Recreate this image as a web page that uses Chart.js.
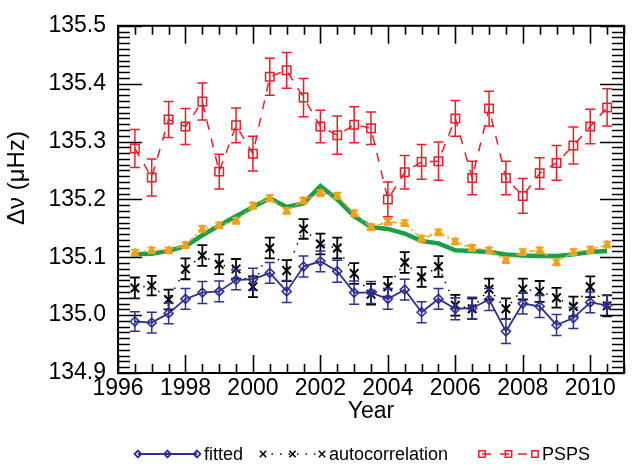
<!DOCTYPE html>
<html>
<head>
<meta charset="utf-8">
<script src="https://cdn.jsdelivr.net/npm/chart.js@4/dist/chart.umd.min.js"></script>
<style>
  html, body { margin: 0; padding: 0; background: #fff; }
  #wrap { width: 632px; height: 470px; }
</style>
</head>
<body>
<div id="wrap"><canvas id="chart" width="632" height="470"></canvas></div>
<script>
// data
const years = [1996.5, 1997, 1997.5, 1998, 1998.5, 1999, 1999.5, 2000, 2000.5, 2001,
  2001.5, 2002, 2002.5, 2003, 2003.5, 2004, 2004.5, 2005, 2005.5, 2006,
  2006.5, 2007, 2007.5, 2008, 2008.5, 2009, 2009.5, 2010, 2010.5]

const fitted = [134.989, 134.987, 135.003, 135.028, 135.039, 135.041, 135.061, 135.062, 135.073, 135.041,
  135.084, 135.093, 135.076, 135.039, 135.039, 135.028, 135.044, 135.005, 135.028, 135.011,
  135.012, 135.027, 134.972, 135.020, 135.015, 134.983, 134.995, 135.022, 135.017]
const fittedErr = [0.017, 0.018, 0.018, 0.018, 0.019, 0.018, 0.017, 0.019, 0.018, 0.019,
  0.018, 0.018, 0.019, 0.020, 0.019, 0.018, 0.018, 0.018, 0.018, 0.019,
  0.019, 0.019, 0.021, 0.018, 0.019, 0.018, 0.018, 0.018, 0.018]

const autocorr = [135.047, 135.051, 135.027, 135.080, 135.103, 135.088, 135.080, 135.049, 135.116, 135.077,
  135.149, 135.123, 135.116, 135.072, 135.036, 135.049, 135.091, 135.066, 135.084, 135.017,
  135.011, 135.045, 135.011, 135.045, 135.041, 135.030, 135.015, 135.049, 135.016]
const autocorrErr = [0.018, 0.017, 0.017, 0.018, 0.018, 0.017, 0.017, 0.018, 0.018, 0.018,
  0.017, 0.018, 0.018, 0.018, 0.018, 0.017, 0.018, 0.017, 0.018, 0.018,
  0.018, 0.018, 0.018, 0.018, 0.018, 0.017, 0.017, 0.018, 0.018]

const psps = [135.288, 135.238, 135.338, 135.326, 135.369, 135.248, 135.328, 135.279, 135.412, 135.423,
  135.376, 135.326, 135.311, 135.329, 135.323, 135.200, 135.247, 135.265, 135.266, 135.340,
  135.237, 135.357, 135.237, 135.206, 135.245, 135.263, 135.293, 135.326, 135.359]
const pspsErr = [0.033, 0.032, 0.031, 0.031, 0.032, 0.030, 0.030, 0.030, 0.032, 0.031,
  0.033, 0.028, 0.033, 0.031, 0.028, 0.030, 0.029, 0.030, 0.033, 0.031,
  0.029, 0.030, 0.029, 0.030, 0.027, 0.030, 0.032, 0.030, 0.032]

const averaged = [135.108, 135.112, 135.112, 135.121, 135.149, 135.155, 135.163, 135.189, 135.202, 135.180,
  135.198, 135.211, 135.206, 135.176, 135.152, 135.161, 135.159, 135.132, 135.143, 135.127,
  135.116, 135.112, 135.095, 135.109, 135.112, 135.091, 135.109, 135.113, 135.122]
const averagedErr = [0.005, 0.005, 0.005, 0.005, 0.005, 0.005, 0.005, 0.005, 0.005, 0.005,
  0.005, 0.005, 0.005, 0.005, 0.005, 0.005, 0.005, 0.005, 0.005, 0.005,
  0.005, 0.005, 0.005, 0.005, 0.005, 0.005, 0.005, 0.005, 0.005]

const smooth = [135.105, 135.106, 135.111, 135.119, 135.138, 135.155, 135.171, 135.187, 135.202, 135.187,
  135.193, 135.223, 135.200, 135.171, 135.152, 135.149, 135.141, 135.128, 135.124, 135.112,
  135.111, 135.109, 135.105, 135.103, 135.102, 135.102, 135.105, 135.109, 135.111]

const xTicks = [1996, 1998, 2000, 2002, 2004, 2006, 2008, 2010]
const yTicks = [134.9, 135.0, 135.1, 135.2, 135.3, 135.4, 135.5]

const blue = '#2e3192'
const red = '#e3202b'
const orange = '#f0a21c'
const green = '#17a04a'

function pts(values) {
  return values.map((v, i) => ({ x: years[i], y: v }))
}

Chart.defaults.font.family = '"Liberation Sans", Arial, Helvetica, sans-serif'
Chart.defaults.color = '#000'

// error bars drawn through the y scale, right after each dataset
const errorBars = {
  id: 'errorBars',
  afterDatasetDraw(chart, args) {
    const ds = chart.data.datasets[args.index]
    if (!ds.errors) return
    const ctx = chart.ctx
    const y = chart.scales.y
    ctx.save()
    ctx.strokeStyle = ds.borderColor
    ctx.lineWidth = ds.errWidth || 1.5
    ctx.setLineDash([])
    ctx.beginPath()
    args.meta.data.forEach((p, i) => {
      const v = ds.data[i].y
      const top = y.getPixelForValue(v + ds.errors[i])
      const bot = y.getPixelForValue(v - ds.errors[i])
      const c = ds.capWidth
      ctx.moveTo(p.x, top); ctx.lineTo(p.x, bot)
      ctx.moveTo(p.x - c, top); ctx.lineTo(p.x + c, top)
      ctx.moveTo(p.x - c, bot); ctx.lineTo(p.x + c, bot)
    })
    ctx.stroke()
    ctx.restore()
  }
}

// IDL style box with inward ticks on all four sides
const frame = {
  id: 'frame',
  afterDraw(chart) {
    const { ctx, chartArea: a, scales: { x, y } } = chart
    ctx.save()
    ctx.strokeStyle = '#000'
    ctx.lineWidth = 1.6
    ctx.beginPath()
    for (let i = 0; i <= 30; i++) {
      const px = Math.round(x.getPixelForValue(1996 + i * 0.5)) + 0.5
      const len = i % 4 === 0 ? 18 : 9
      ctx.moveTo(px, a.bottom); ctx.lineTo(px, a.bottom - len)
      ctx.moveTo(px, a.top); ctx.lineTo(px, a.top + len)
    }
    for (let i = 0; i <= 60; i++) {
      const py = Math.round(y.getPixelForValue(134.9 + i * 0.01)) + 0.5
      const len = i % 10 === 0 ? 24 : 12
      ctx.moveTo(a.left, py); ctx.lineTo(a.left + len, py)
      ctx.moveTo(a.right, py); ctx.lineTo(a.right - len, py)
    }
    ctx.stroke()
    ctx.lineWidth = 2
    ctx.strokeRect(a.left, a.top, a.right - a.left, a.bottom - a.top)

    // y axis title
    ctx.fillStyle = '#000'
    ctx.font = '24px "Liberation Sans", Arial, sans-serif'
    ctx.textAlign = 'center'
    ctx.textBaseline = 'middle'
    ctx.translate(17, 178)
    ctx.rotate(-Math.PI / 2)
    ctx.fillText('Δν (μHz)', 0, 0)
    ctx.restore()
  }
}

// bottom legend: line sample with three markers, like the IDL one
const bottomLegend = {
  id: 'bottomLegend',
  afterDraw(chart) {
    const ctx = chart.ctx
    const items = [
      { ds: 0, x0: 138, x1: 197 },
      { ds: 1, x0: 263, x1: 322 },
      { ds: 2, x0: 482, x1: 535 }
    ]
    const yy = 454
    ctx.save()
    items.forEach(it => {
      const ds = chart.data.datasets[it.ds]
      ctx.strokeStyle = ds.borderColor
      ctx.lineWidth = ds.borderWidth
      ctx.setLineDash(ds.borderDash || [])
      ctx.beginPath()
      ctx.moveTo(it.x0, yy); ctx.lineTo(it.x1, yy)
      ctx.stroke()
      ctx.setLineDash([])
      ctx.fillStyle = 'rgba(0,0,0,0)'
      const xm = (it.x0 + it.x1) / 2
      ;[it.x0, xm, it.x1].forEach(px => {
        Chart.helpers.drawPoint(ctx, {
          pointStyle: ds.pointStyle,
          radius: ds.pointRadius * 0.75,
          borderWidth: ds.pointBorderWidth,
          rotation: 0
        }, px, yy)
      })
      ctx.fillStyle = '#000'
      ctx.font = '18px "Liberation Sans", Arial, sans-serif'
      ctx.textAlign = 'left'
      ctx.textBaseline = 'middle'
      ctx.fillText(ds.label, it.x1 + 7, yy + 1)
    })
    ctx.restore()
  }
}

const ctx = document.getElementById('chart').getContext('2d')
new Chart(ctx, {
  type: 'line',
  data: {
    datasets: [
      {
        label: 'fitted',
        data: pts(fitted),
        errors: fittedErr,
        capWidth: 5,
        borderColor: blue,
        backgroundColor: 'rgba(0,0,0,0)',
        borderWidth: 1.8,
        pointStyle: 'rectRot',
        pointRadius: 4.5,
        pointBorderWidth: 1.6,
        order: 1
      },
      {
        label: 'autocorrelation',
        data: pts(autocorr),
        errors: autocorrErr,
        capWidth: 5,
        borderColor: '#000',
        backgroundColor: 'rgba(0,0,0,0)',
        borderWidth: 1.5,
        borderDash: [1.5, 7],
        pointStyle: 'crossRot',
        pointRadius: 6,
        pointBorderWidth: 2,
        errWidth: 1.8,
        order: 2
      },
      {
        label: 'PSPS',
        data: pts(psps),
        errors: pspsErr,
        capWidth: 5,
        borderColor: red,
        backgroundColor: 'rgba(0,0,0,0)',
        borderWidth: 1.5,
        borderDash: [9, 9],
        pointStyle: 'rect',
        pointRadius: 6,
        pointBorderWidth: 1.5,
        order: 3
      },
      {
        label: 'average',
        data: pts(averaged),
        errors: averagedErr,
        capWidth: 4,
        borderColor: orange,
        backgroundColor: orange,
        borderWidth: 1.5,
        borderDash: [6, 3, 2, 3],
        pointStyle: 'triangle',
        pointRadius: 4.5,
        pointBorderWidth: 1,
        errWidth: 2,
        order: 4
      },
      {
        label: 'smoothed',
        data: pts(smooth),
        borderColor: green,
        backgroundColor: green,
        borderWidth: 4.5,
        pointRadius: 0,
        order: 5
      }
    ]
  },
  options: {
    responsive: false,
    animation: false,
    events: [],
    layout: { padding: { top: 13, right: 1, bottom: 0, left: 0 } },
    plugins: {
      legend: { display: false },
      tooltip: { enabled: false }
    },
    scales: {
      x: {
        type: 'linear',
        min: 1996,
        max: 2011,
        grid: { display: false, drawTicks: false },
        border: { display: false },
        afterFit: s => { s.height = 97 },
        afterBuildTicks: s => { s.ticks = xTicks.map(v => ({ value: v })) },
        ticks: {
          font: { size: 23 },
          padding: 2,
          maxRotation: 0,
          autoSkip: false,
          callback: v => String(v)
        },
        title: {
          display: true,
          text: 'Year',
          font: { size: 23 },
          padding: { top: 0, bottom: 45 }
        }
      },
      y: {
        type: 'linear',
        min: 134.9,
        max: 135.5,
        grid: { display: false, drawTicks: false },
        border: { display: false },
        afterFit: s => { s.width = 118 },
        afterBuildTicks: s => { s.ticks = yTicks.map(v => ({ value: v })) },
        ticks: {
          font: { size: 23 },
          padding: 12,
          callback: v => v.toFixed(1)
        }
      }
    }
  },
  plugins: [errorBars, frame, bottomLegend]
})
</script>
</body>
</html>
